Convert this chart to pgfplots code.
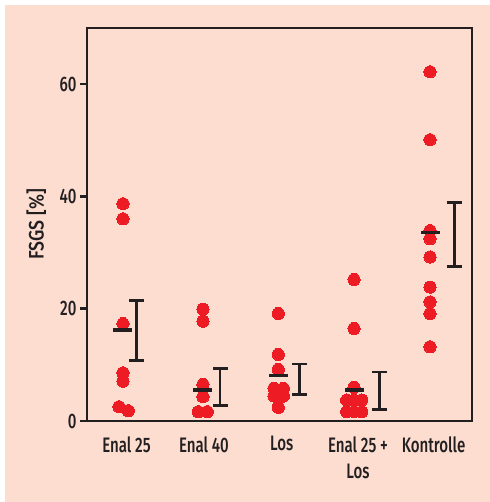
\documentclass[border=0pt]{standalone}
\usepackage{pgfplots}
\pgfplotsset{compat=1.18}
\usepackage{fontspec}
\setmainfont{Fira Sans Medium}[FakeStretch=0.72]
\newfontfamily\labfont{Fira Sans Medium}[FakeStretch=0.85]
\definecolor{peach}{RGB}{252,221,208}
\definecolor{dotred}{RGB}{237,28,36}
\definecolor{ink}{RGB}{35,31,32}
\begin{document}
\begin{tikzpicture}
\fill[white] (0,0) rectangle (490bp,502bp);
\fill[peach] (5bp,0) rectangle (490bp,497bp);
\begin{axis}[at={(87bp,81bp)}, anchor=south west, scale only axis,
  width=385bp, height=393bp,
  xmin=-0.469, xmax=4.547, ymin=0, ymax=70,
  axis line style={line width=2.5bp, ink},
  ytick={0,20,40,60}, ytick pos=left, tick align=outside, major tick length=7bp,
  ytick style={line width=2.5bp, ink},
  xtick={0.045,1.055,2.069,3.062,4.046},
  xticklabels={Enal 25, Enal 40, Los, Enal 25 +\\Los, Kontrolle},
  xtick style={draw=none},
  xticklabel style={align=center, font=\fontsize{21}{26}\selectfont, text=ink, yshift=-5bp},
  yticklabel style={font=\fontsize{21}{25}\selectfont, text=ink},
  /pgf/number format/assume math mode=true,
  ylabel={FSGS [\%]},
  ylabel style={font=\labfont\fontsize{21}{25}\selectfont, text=ink, at={(axis description cs:-0.132,0.5)}, anchor=center},
  clip=false,
]
% individual values
\addplot[only marks, mark=*, mark size=6.1bp, color=dotred, mark options={fill=dotred, draw=dotred, line width=0pt}] coordinates {
 (0,38.7) (0,36.0) (0,17.35) (0,8.58) (0,7.10) (-0.052,2.54) (0.069,1.83)
 (1.042,19.9) (1.042,17.76) (1.042,6.52) (1.042,4.32) (0.981,1.65) (1.098,1.65)
 (2.023,19.13) (2.023,11.85) (2.023,9.18) (1.968,5.81) (2.089,5.81) (1.968,4.44) (2.089,4.44) (2.023,2.43)
 (3.010,25.2) (3.010,16.47) (3.010,5.99) (2.914,3.73) (3.110,3.73) (3.010,3.73) (2.914,1.65) (3.010,1.65) (3.110,1.65)
 (4,62.2) (4,50.1) (4,33.9) (4,32.45) (4,29.2) (4,23.85) (4,21.2) (4,19.13) (4,13.2)
};
% means
\addplot[only marks, mark=-, mark size=9.5bp, color=ink, mark options={line width=3.6bp, draw=ink}] coordinates {
 (0,16.16) (1.042,5.5) (2.023,8.12) (3.010,5.5) (4,33.57)
};
% mean +- SE (bar with caps)
\pgfplotsset{sebar/.style={ink, line width=2.5bp, mark=-, mark size=7.5bp, mark options={line width=2.5bp, draw=ink}}}
\addplot[sebar] coordinates {(0.178,10.78) (0.178,21.50)};
\addplot[sebar] coordinates {(1.264,2.72) (1.264,9.36)};
\addplot[sebar] coordinates {(2.297,4.74) (2.297,10.12)};
\addplot[sebar] coordinates {(3.339,2.08) (3.339,8.70)};
\addplot[sebar] coordinates {(4.317,27.53) (4.317,38.95)};
\end{axis}
\end{tikzpicture}
\end{document}
